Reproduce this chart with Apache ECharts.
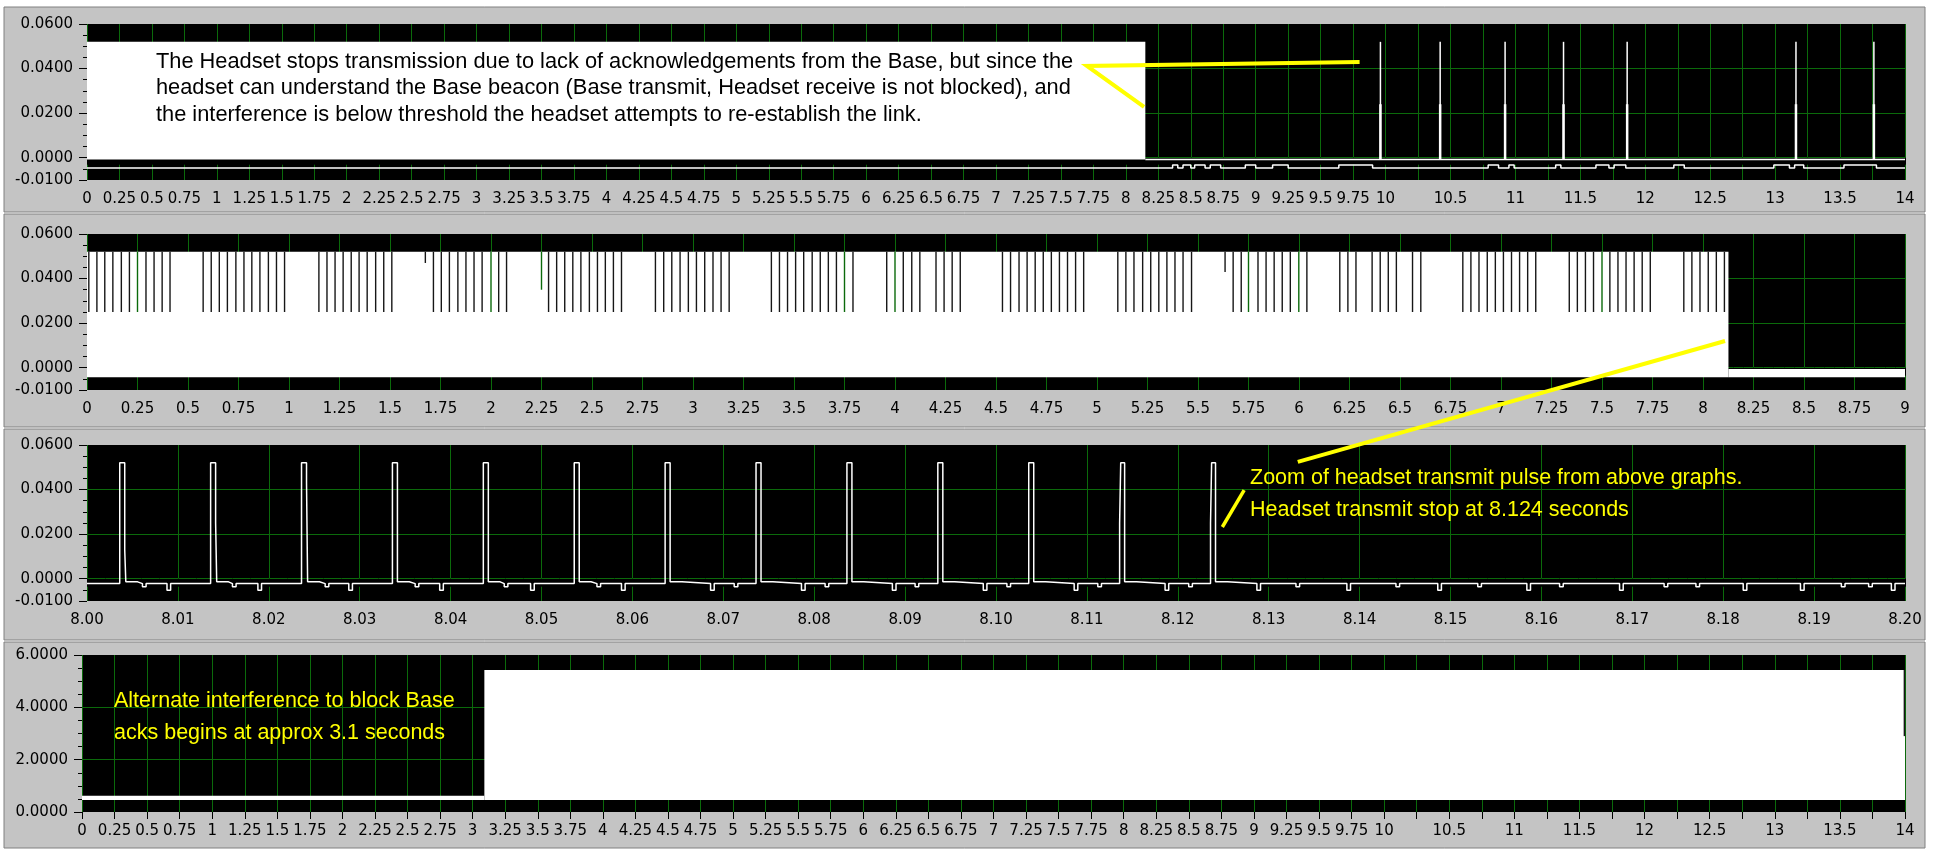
<!DOCTYPE html>
<html><head><meta charset="utf-8">
<script src="https://cdn.jsdelivr.net/npm/echarts@6/dist/echarts.min.js"></script>
<style>html,body{margin:0;padding:0;background:#fff;}#c{width:1935px;height:850px;}</style>
</head><body><div id="c"></div>
<script>
// ================= DATA =================
// tick values
const ySignalTicks = [-0.01, 0, 0.02, 0.04, 0.06];
const ySignalMinor = [-0.01,-0.005,0,0.005,0.01,0.015,0.02,0.025,0.03,0.035,0.04,0.045,0.05,0.055,0.06];
const yLevelTicks = [0, 2, 4, 6];
const yLevelMinor = [0,0.5,1,1.5,2,2.5,3,3.5,4,4.5,5,5.5,6];
const xLongLabels = [0,0.25,0.5,0.75,1,1.25,1.5,1.75,2,2.25,2.5,2.75,3,3.25,3.5,3.75,4,4.25,4.5,4.75,5,5.25,5.5,5.75,6,6.25,6.5,6.75,7,7.25,7.5,7.75,8,8.25,8.5,8.75,9,9.25,9.5,9.75,10,10.5,11,11.5,12,12.5,13,13.5,14];

// Panel 1 : headset transmit, 0-14 s  ([xStart, xEnd, yLow, yHigh])
const p1DenseBand = [[0, 8.15, -0.0008, 0.052]];
const p1IdleLine = [[8.15, -0.0008], [14, -0.0008]];
const p1PulseTimes = [9.96, 10.42, 10.92, 11.37, 11.86, 13.16, 13.76];
const p1PulseLevels = [-0.0008, 0.024, 0.052];          // base, lower step, top
const p1NoiseLevels = [-0.0046, -0.0033];                // base, bump
const p1NoiseBumps = [[8.36,8.40],[8.44,8.50],[8.53,8.61],[8.65,8.73],[8.92,9.00],[9.13,9.25],[9.64,9.90],
  [10.79,10.87],[10.95,10.99],[11.31,11.35],[11.62,11.72],[11.76,11.85],[12.22,12.30],[12.99,13.11],[13.15,13.22],[13.53,13.78]];

// Panel 2 : 0-9 s
const p2DenseBand = [[0, 8.126, -0.0043, 0.052]];
const p2IdleBand = [[8.126, 9, -0.0043, -0.0006]];
const p2GapTop = 0.052;
const p2GapBottom = 0.025;
const p2GapTimes = [
  0.009,0.049,0.088,0.128,0.170,0.210,0.25,0.292,0.332,0.372,0.411,
  0.575,0.615,0.655,0.695,0.737,0.777,0.816,0.856,0.898,0.938,0.978,
  1.148,1.188,1.228,1.268,1.308,1.347,1.387,1.429,1.469,1.509,
  1.715,1.754,1.794,1.836,1.876,1.916,1.956,2.0,2.038,2.077,
  2.285,2.325,2.365,2.405,2.445,2.487,2.527,2.566,2.606,2.646,
  2.814,2.855,2.895,2.936,2.977,3.017,3.058,3.099,3.139,3.179,
  3.388,3.428,3.468,3.508,3.548,3.590,3.630,3.670,3.710,3.75,3.792,
  3.959,4.0,4.041,4.083,4.123,4.203,4.243,4.283,4.323,
  4.532,4.572,4.614,4.654,4.694,4.734,4.774,4.814,4.854,4.894,4.934,
  5.103,5.143,5.183,5.226,5.266,5.306,5.346,5.386,5.426,5.468,
  5.674,5.714,5.75,5.797,5.837,5.877,5.917,5.957,5.999,6.039,
  6.202,6.242,6.282,6.362,6.402,6.442,6.482,6.562,6.603,
  6.811,6.851,6.891,6.932,6.972,7.012,7.052,7.092,7.132,7.172,
  7.338,7.378,7.418,7.458,7.5,7.539,7.579,7.619,7.659,7.699,7.739,
  7.905,7.945,7.985,8.026,8.066,8.106];
const p2ShortGaps = [[1.675, 0.047], [2.25, 0.035], [5.634, 0.043]];

// Panel 3 : zoom 8.00-8.20 s
const p3PulseStart = [8.0036,8.0136,8.0236,8.0336,8.0436,8.0536,8.0636,8.0736,8.0836,8.0936,8.1036,8.1136,8.1236];
const p3RiseStep = [null,null,null,null,null,null,null,null,null,null,null,0.025,0.025];
const p3FallStep = [0.013,0.025,0.043,null,null,null,null,null,null,null,null,null,null];
const p3Levels = [-0.0022, 0.052, -0.0014];             // baseline, pulse top, level just after a pulse
const p3PulseWidth = 0.00055;
const p3AfterPulse = 0.0013;                             // duration of the raised level after a pulse
const p3Dips = [8.0088,8.0188,8.0288,8.0388,8.0488,8.0588,8.0686,8.0786,8.0886,8.0986,8.1086,8.1186,
  8.1287,8.1386,8.1486,8.1584,8.1686,8.1822,8.1885,8.1985];
const p3DipLevel = -0.0052;
const p3SmallDips = [8.0061,8.0160,8.0262,8.0361,8.0459,8.0561,8.0712,8.0812,8.0911,8.1012,8.1112,8.1212,
  8.1330,8.1440,8.1530,8.1620,8.1735,8.1770,8.1930,8.1960];
const p3SmallDipLevel = -0.0036;

// Panel 4 : interference level 0-14 s
const p4QuietBand = [[0, 3.09, 0.46, 0.62]];
const p4JamBand = [[3.09, 14, 0.46, 5.43]];
const p4EdgeGap = [[13.995, 2.9, 5.43]];

// annotations (data coordinates)
const p1Arrow = [[9.80, 0.0429], [7.70, 0.0412], [8.14, 0.0228]];
const p2toP3Arrow = [[8.109, 0.012], [8.1332, 0.0524]];
const p3Arrow = [[8.1273, 0.0398], [8.1249, 0.0232]];

// ================= CHART =================
const GREEN = '#0b6a0b';
const FONT = 'Liberation Sans, Arial, sans-serif';
const axisFont = {color: '#000', fontFamily: 'DejaVu Sans, Verdana, sans-serif', fontSize: 15};

function xAxisCfg(grid, min, max, interval, opts) {
  return Object.assign({
    type: 'value', gridIndex: grid, min: min, max: max, interval: interval,
    axisLine: {show: false},
    axisTick: {show: true, length: 7, lineStyle: {color: '#000', width: 1}},
    axisLabel: Object.assign({margin: 12}, axisFont),
    splitLine: {show: true, lineStyle: {color: GREEN, width: 1}}
  }, opts || {});
}
function yAxisPair(grid, min, max, ticks, minor) {
  return [{
    type: 'value', gridIndex: grid, min: min, max: max, position: 'left',
    axisLine: {show: false},
    axisTick: {show: true, length: 8, customValues: ticks, lineStyle: {color: '#000'}},
    axisLabel: Object.assign({margin: 14, customValues: ticks, formatter: v => v.toFixed(4)}, axisFont),
    splitLine: {show: true, showMinLine: false, showMaxLine: false, lineStyle: {color: GREEN, width: 1}}
  }, {
    type: 'value', gridIndex: grid, min: min, max: max, position: 'left',
    axisLine: {show: false},
    axisTick: {show: true, length: 4, customValues: minor, lineStyle: {color: '#000'}},
    axisLabel: {show: false}, splitLine: {show: false}
  }];
}

function rectItem(fill) {
  return function (params, api) {
    const a = api.coord([api.value(0), api.value(3)]);
    const b = api.coord([api.value(1), api.value(2)]);
    return {type: 'rect', shape: {x: a[0], y: a[1], width: b[0] - a[0], height: b[1] - a[1]}, style: {fill: fill}};
  };
}
function gapItem(params, api) {
  const t = api.value(0);
  const a = api.coord([t, api.value(2)]);
  const b = api.coord([t, api.value(1)]);
  const k = t / 0.25;
  const onGrid = Math.abs(k - Math.round(k)) < 0.01;
  return {type: 'rect', shape: {x: a[0] - 0.7, y: a[1], width: 1.4, height: b[1] - a[1]},
    style: {fill: onGrid ? GREEN : '#161616'}};
}
function pulseItem(params, api) {
  const t = api.value(0);
  const base = api.coord([t, api.value(1)]);
  const step = api.coord([t, api.value(2)]);
  const top = api.coord([t, api.value(3)]);
  return {type: 'group', children: [
    {type: 'rect', shape: {x: base[0] - 0.7, y: top[1], width: 1.5, height: base[1] - top[1]}, style: {fill: '#fff'}},
    {type: 'rect', shape: {x: base[0] - 1.2, y: step[1], width: 2.5, height: base[1] - step[1]}, style: {fill: '#fff'}}
  ]};
}

// Panel 1 noise line from bumps
const p1Noise = [[0, p1NoiseLevels[0]]];
p1NoiseBumps.forEach(b => {
  p1Noise.push([b[0], p1NoiseLevels[0]], [b[0], p1NoiseLevels[1]], [b[1], p1NoiseLevels[1]], [b[1], p1NoiseLevels[0]]);
});
p1Noise.push([14, p1NoiseLevels[0]]);

// Panel 3 trace from pulses and dips
const p3Events = [];
p3PulseStart.forEach((t, i) => p3Events.push({t: t, kind: 'p', i: i}));
p3Dips.forEach(t => p3Events.push({t: t, kind: 'd', lvl: p3DipLevel}));
p3SmallDips.forEach(t => p3Events.push({t: t, kind: 'd', lvl: p3SmallDipLevel}));
p3Events.sort((a, b) => a.t - b.t);
const base3 = p3Levels[0], top3 = p3Levels[1], after3 = p3Levels[2];
const p3Trace = [[8.0, base3]];
p3Events.forEach(e => {
  const t = e.t;
  if (e.kind === 'd') {
    p3Trace.push([t, base3], [t, e.lvl], [t + 0.0004, e.lvl], [t + 0.0004, base3]);
  } else {
    const rs = p3RiseStep[e.i], fs = p3FallStep[e.i];
    let x = t;
    p3Trace.push([x, base3]);
    if (rs !== null) { p3Trace.push([x, rs]); x += 0.00012; p3Trace.push([x, rs]); }
    p3Trace.push([x, top3]);
    x = t + p3PulseWidth;
    p3Trace.push([x, top3]);
    if (fs !== null) { p3Trace.push([x, fs]); x += 0.00012; p3Trace.push([x, fs]); }
    p3Trace.push([x, after3], [x + p3AfterPulse, after3], [x + p3AfterPulse, base3]);
  }
});
p3Trace.push([8.2, base3]);

const gridBox = (l, t, w, h) => ({left: l, top: t, width: w, height: h, show: true, backgroundColor: '#000', borderWidth: 0});
const lineSeries = (xi, yi, data, w) => ({type: 'line', xAxisIndex: xi, yAxisIndex: yi, data: data, symbol: 'none',
  showSymbol: false, lineStyle: {color: '#fff', width: w}, clip: true, silent: true});

const panels = [[4, 7, 1921, 205], [4, 214, 1921, 213], [4, 429, 1921, 211], [4, 642, 1921, 206]];
const graphics = panels.map(p => ({type: 'rect', z: -10, shape: {x: p[0], y: p[1], width: p[2], height: p[3]},
  style: {fill: '#c4c4c4', stroke: '#808080', lineWidth: 1}}));
const txt = (s, x, y, col, size) => ({type: 'text', z: 100, style: {text: s, x: x, y: y, fill: col,
  font: size + 'px ' + FONT, verticalAlign: 'middle'}});
graphics.push(
  txt('The Headset stops transmission due to lack of acknowledgements from the Base, but since the', 156, 62, '#000', 21.8),
  txt('headset can understand the Base beacon (Base transmit, Headset receive is not blocked), and', 156, 88, '#000', 21.8),
  txt('the interference is below threshold the headset attempts to re-establish the link.', 156, 115, '#000', 21.8),
  txt('Zoom of headset transmit pulse from above graphs.', 1250, 478, '#ffff00', 21.5),
  txt('Headset transmit stop at 8.124 seconds', 1250, 510, '#ffff00', 21.5),
  txt('Alternate interference to block Base', 114, 701, '#ffff00', 21.5),
  txt('acks begins at approx 3.1 seconds', 114, 733, '#ffff00', 21.5)
);

const option = {
  animation: false,
  backgroundColor: '#ffffff',
  grid: [gridBox(87, 24, 1818, 156), gridBox(87, 234, 1818, 156), gridBox(87, 445, 1818, 156), gridBox(82, 655, 1823, 157)],
  xAxis: [
    xAxisCfg(0, 0, 14, 0.25, {axisLabel: Object.assign({margin: 12, customValues: xLongLabels, formatter: v => String(v)}, axisFont)}),
    xAxisCfg(1, 0, 9, 0.25, {minorTick: {show: true, splitNumber: 5, length: 4, lineStyle: {color: '#000'}},
      axisTick: {show: true, length: 8, lineStyle: {color: '#000'}}}),
    xAxisCfg(2, 8.0, 8.2, 0.01, {minorTick: {show: true, splitNumber: 5, length: 4, lineStyle: {color: '#000'}},
      axisTick: {show: true, length: 8, lineStyle: {color: '#000'}},
      axisLabel: Object.assign({margin: 12, formatter: v => v.toFixed(2)}, axisFont)}),
    xAxisCfg(3, 0, 14, 0.25, {axisLabel: Object.assign({margin: 12, customValues: xLongLabels, formatter: v => String(v)}, axisFont)})
  ],
  yAxis: [].concat(
    yAxisPair(0, -0.01, 0.06, ySignalTicks, ySignalMinor),
    yAxisPair(1, -0.01, 0.06, ySignalTicks, ySignalMinor),
    yAxisPair(2, -0.01, 0.06, ySignalTicks, ySignalMinor),
    yAxisPair(3, 0, 6, yLevelTicks, yLevelMinor)
  ),
  series: [
    {type: 'custom', xAxisIndex: 0, yAxisIndex: 0, renderItem: rectItem('#fff'), data: p1DenseBand, clip: true, silent: true},
    lineSeries(0, 0, p1IdleLine, 1.5),
    {type: 'custom', xAxisIndex: 0, yAxisIndex: 0, renderItem: pulseItem, clip: true, silent: true,
      data: p1PulseTimes.map(t => [t, p1PulseLevels[0], p1PulseLevels[1], p1PulseLevels[2]])},
    lineSeries(0, 0, p1Noise, 1.5),

    {type: 'custom', xAxisIndex: 1, yAxisIndex: 2, renderItem: rectItem('#fff'), data: p2DenseBand.concat(p2IdleBand), clip: true, silent: true},
    {type: 'custom', xAxisIndex: 1, yAxisIndex: 2, renderItem: gapItem, clip: true, silent: true,
      data: p2GapTimes.map(t => [t, p2GapBottom, p2GapTop]).concat(p2ShortGaps.map(g => [g[0], g[1], p2GapTop]))},

    lineSeries(2, 4, p3Trace, 1.5),

    {type: 'custom', xAxisIndex: 3, yAxisIndex: 6, renderItem: rectItem('#fff'), data: p4QuietBand.concat(p4JamBand), clip: true, silent: true},
    {type: 'custom', xAxisIndex: 3, yAxisIndex: 6, renderItem: gapItem, data: p4EdgeGap, clip: false, silent: true}
  ],
  graphic: {elements: graphics}
};

const chart = echarts.init(document.getElementById('c'), null, {width: 1935, height: 850});
chart.setOption(option);

// annotation lines placed through the axes
const px = (xi, yi, p) => chart.convertToPixel({xAxisIndex: xi, yAxisIndex: yi}, p);
const yl = (pts, w) => ({type: 'polyline', z: 101, shape: {points: pts}, style: {stroke: '#ffff00', lineWidth: w, fill: null}});
graphics.push(
  yl(p1Arrow.map(p => px(0, 0, p)), 4),
  yl([px(1, 2, p2toP3Arrow[0]), px(2, 4, p2toP3Arrow[1])], 4),
  yl(p3Arrow.map(p => px(2, 4, p)), 3.5)
);
chart.setOption({graphic: {elements: graphics}}, {replaceMerge: ['graphic']});
</script></body></html>
